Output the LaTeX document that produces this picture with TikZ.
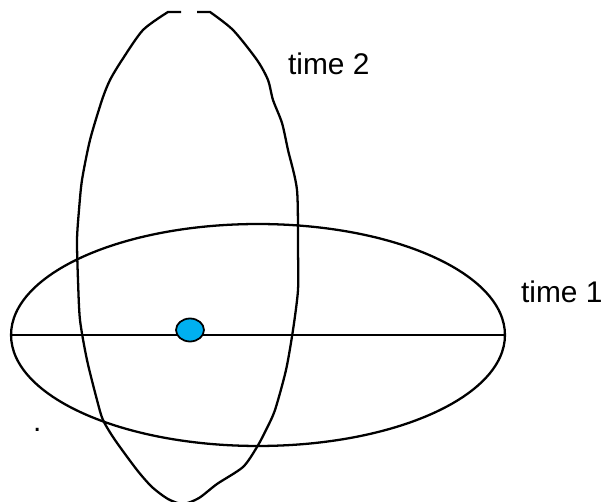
\documentclass[tikz,border=0pt]{standalone}
\usepackage{fontspec}
\setmainfont{Liberation Sans}
\usepackage{tikz}
\usetikzlibrary{shapes.geometric}
\usepackage{xcolor}
\definecolor{dotblue}{RGB}{0,176,240}

\begin{document}
\begin{tikzpicture}[x=0.02cm,y=-0.02cm,line width=1.3pt]
\tikzstyle{every node}=[font=\fontsize{17}{20}\selectfont]
\tikzstyle{orbit}=[draw,ellipse,inner sep=0pt]
\useasboundingbox (0,0) rectangle (605,502);
\node[orbit,minimum width=9.88cm,minimum height=4.44cm] (orbit1) at (258,335) {};
% the second orbit is drawn by hand, open at the top
\draw (181,12) -- (168,12) -- plot[smooth,tension=0.45] coordinates {(168,12) (143,30) (122,60)
(110,80) (102,100) (90,140) (82,180) (79,210) (77,240) (78,280) (80,320)
(87,360) (97,400) (103,420) (115,440) (137,470) (152,487) (168,499) (183,504)
(199,498) (217,484) (243,467) (257,447) (266,430) (275,410) (286,370) (293,330)
(298,290) (298,250) (297,190) (288,150) (282,123) (273,100) (268,80) (257,60)
(233,30) (210,12)} -- (197,12);
\path (orbit1.west) edge (orbit1.east);
\node[orbit,fill=dotblue,line width=1pt,minimum width=0.56cm,minimum height=0.46cm] (mass) at (190,330) {};
\node[anchor=base west,inner sep=0pt] (label2) at (287,75) {time 2};
\node[anchor=base west,inner sep=0pt] (label1) at (520,303) {time 1};
\node[anchor=base west,inner sep=0pt] (stray) at (32,432) {.};
\end{tikzpicture}
\end{document}
